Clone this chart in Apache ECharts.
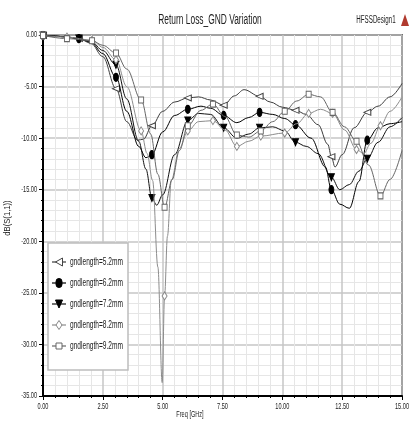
<!DOCTYPE html>
<html>
<head>
<meta charset="utf-8">
<script src="https://cdn.jsdelivr.net/npm/echarts@6/dist/echarts.min.js"></script>
<style>
  html, body { margin: 0; padding: 0; background: #fff; }
  #chart { width: 409px; height: 422px; }
</style>
</head>
<body>
<div id="chart"></div>
<script>
// Return loss dB(S(1,1)) versus frequency for five ground-plane lengths.
const FONT = "'Liberation Sans', Arial, sans-serif";

const seriesNames = ['gndlength=5.2mm', 'gndlength=6.2mm', 'gndlength=7.2mm', 'gndlength=8.2mm', 'gndlength=9.2mm'];
const xTicks = [0, 2.5, 5, 7.5, 10, 12.5, 15];
const yTicks = [-35, -30, -25, -20, -15, -10, -5, 0];

// gndlength = 5.2 mm
const freq52 = [0, 0.5, 1.0, 1.5, 2.0, 2.5, 3.05, 3.5, 3.95, 4.2, 4.55, 5.0, 5.5, 6.05, 6.5, 7.0, 7.55, 8.0, 8.4, 9.05, 9.5, 10.0, 10.55, 11.0, 11.5, 11.9, 12.05, 12.2, 12.5, 13.0, 13.55, 14.0, 14.5, 15.0];
const s11_52 = [-0.05, -0.1, -0.2, -0.35, -0.8, -2.1, -5.2, -8.4, -10.2, -10.1, -8.8, -7.4, -6.5, -6.1, -6.0, -6.3, -6.8, -5.9, -5.3, -5.95, -6.5, -7.0, -7.3, -7.7, -8.7, -10.6, -11.8, -12.8, -11.6, -9.0, -7.5, -6.9, -6.0, -4.7];

// gndlength = 6.2 mm
const freq62 = [0, 0.5, 1.0, 1.5, 2.0, 2.5, 3.05, 3.5, 4.0, 4.3, 4.55, 5.0, 5.5, 6.05, 6.6, 7.0, 7.55, 8.1, 8.6, 9.05, 9.6, 10.1, 10.55, 11.2, 11.8, 12.05, 12.4, 12.8, 13.2, 13.55, 14.0, 14.5, 15.0];
const s11_62 = [-0.05, -0.1, -0.2, -0.35, -0.7, -1.8, -4.1, -7.4, -10.8, -11.9, -11.6, -9.4, -7.8, -7.2, -6.9, -7.1, -7.8, -8.5, -8.0, -7.5, -7.7, -8.1, -8.7, -10.0, -12.8, -15.0, -16.4, -16.8, -14.2, -10.2, -9.0, -8.6, -8.4];

// gndlength = 7.2 mm
const freq72 = [0, 0.5, 1.0, 1.5, 2.0, 2.5, 3.05, 3.5, 4.0, 4.3, 4.55, 4.75, 5.0, 5.5, 6.05, 6.5, 7.0, 7.55, 8.1, 8.6, 9.05, 9.6, 10.1, 10.55, 11.0, 11.5, 12.05, 12.4, 12.8, 13.2, 13.55, 14.0, 14.5, 15.0];
const s11_72 = [-0.05, -0.1, -0.2, -0.35, -0.6, -1.5, -2.9, -6.2, -10.3, -13.0, -15.8, -16.5, -15.5, -11.6, -8.3, -7.6, -7.7, -9.0, -10.0, -9.6, -9.0, -8.9, -9.3, -10.4, -10.8, -11.5, -13.8, -15.0, -14.5, -13.2, -12.0, -10.4, -8.9, -8.0];

// gndlength = 8.2 mm
const freq82 = [0, 1.0, 2.05, 2.5, 3.05, 3.5, 4.1, 4.35, 4.58, 4.8, 4.98, 5.08, 5.2, 5.36, 5.7, 6.05, 6.5, 7.1, 7.6, 8.1, 8.6, 9.1, 10.1, 10.6, 11.1, 11.6, 12.1, 12.6, 13.1, 13.4, 13.7, 14.1, 14.5, 15.0];
const s11_82 = [-0.05, -0.2, -0.5, -1.2, -2.4, -5.0, -9.3, -11.5, -14.1, -22.5, -33.7, -25.3, -19.5, -14.1, -11.0, -9.3, -8.4, -8.3, -9.2, -10.8, -10.3, -9.8, -9.5, -8.6, -7.6, -7.2, -7.6, -9.2, -11.1, -11.5, -10.5, -8.8, -7.4, -6.0];

// gndlength = 9.2 mm
const freq92 = [0, 1.0, 2.05, 2.5, 3.05, 3.5, 4.1, 4.5, 4.8, 5.08, 5.4, 5.7, 6.05, 6.6, 7.1, 7.6, 8.1, 8.6, 9.1, 9.6, 10.1, 10.6, 11.1, 11.6, 12.1, 12.6, 13.1, 13.6, 14.1, 14.5, 15.0];
const s11_92 = [-0.05, -0.35, -0.55, -1.0, -1.75, -3.3, -6.3, -9.6, -13.5, -16.7, -14.0, -11.2, -8.8, -7.3, -6.7, -7.9, -9.7, -9.9, -9.3, -8.4, -7.4, -6.4, -5.75, -6.0, -7.5, -8.9, -10.3, -12.6, -15.6, -14.0, -11.2];

// Frequencies at which trace markers are drawn
const markersWide = [0, 1.5, 3.05, 4.55, 6.05, 7.55, 9.05, 10.55, 12.05, 13.55];
const markersNarrow = [0, 1.0, 2.05, 3.05, 4.1, 5.08, 6.05, 7.1, 8.1, 9.1, 10.1, 11.1, 12.1, 13.1, 14.1];

function buildData(freqs, vals, marks) {
  return freqs.map((f, i) => {
    const item = { value: [f, vals[i]] };
    if (!marks.some(m => Math.abs(m - f) < 1e-6)) item.symbol = 'none';
    return item;
  });
}

const traceStyles = [
  { line: '#3c3c3c', symbol: 'triangle', rotate: 90, size: [6, 7], fill: '#fff', border: '#444' },
  { line: '#000', symbol: 'circle', rotate: 0, size: [5, 8], fill: '#000', border: '#000' },
  { line: '#111', symbol: 'triangle', rotate: 180, size: [6, 7], fill: '#000', border: '#000' },
  { line: '#8c8c8c', symbol: 'diamond', rotate: 0, size: [5, 8], fill: '#fff', border: '#888' },
  { line: '#666', symbol: 'rect', rotate: 0, size: [5, 6], fill: '#fff', border: '#666' }
];

const traces = [
  buildData(freq52, s11_52, markersWide),
  buildData(freq62, s11_62, markersWide),
  buildData(freq72, s11_72, markersWide),
  buildData(freq82, s11_82, markersNarrow),
  buildData(freq92, s11_92, markersNarrow)
];

const series = traces.map((data, k) => {
  const st = traceStyles[k];
  return {
    name: seriesNames[k],
    type: 'line',
    data: data,
    smooth: 0.35,
    smoothMonotone: 'x',
    showAllSymbol: true,
    symbol: st.symbol,
    symbolRotate: st.rotate,
    symbolSize: st.size,
    lineStyle: { color: st.line, width: 1 },
    itemStyle: { color: st.fill, borderColor: st.border, borderWidth: 1 },
    emphasis: { disabled: true },
    z: 3 + k
  };
});

const axisCommon = {
  type: 'value',
  axisLine: { onZero: false, lineStyle: { color: '#000', width: 2 } },
  axisTick: { show: true, length: 4, lineStyle: { color: '#000' } },
  minorTick: { show: true, splitNumber: 5, length: 2, lineStyle: { color: '#000' } },
  axisLabel: { show: false },
  splitLine: { show: true, lineStyle: { color: '#c6c6c6', width: 1.5 } },
  minorSplitLine: { show: true, lineStyle: { color: '#e6e6e6', width: 1 } }
};

const chart = echarts.init(document.getElementById('chart'), null, { renderer: 'canvas' });
chart.setOption({
  animation: false,
  backgroundColor: '#fff',
  grid: { left: 43, right: 7, top: 35, bottom: 26, show: true, borderColor: '#000', borderWidth: 1.5, backgroundColor: '#fff' },
  xAxis: Object.assign({}, axisCommon, { min: xTicks[0], max: xTicks[xTicks.length - 1], interval: 2.5 }),
  yAxis: Object.assign({}, axisCommon, { min: yTicks[0], max: yTicks[yTicks.length - 1], interval: 5 }),
  series: series
});

// Condensed text: tick labels, titles and legend drawn as scaled text elements.
const narrow = (x, y, text, size, sx, align, extra) => Object.assign({
  type: 'text', x: x, y: y, scaleX: sx, z: 20,
  style: { text: text, font: size + 'px ' + FONT, fill: '#222', align: align, verticalAlign: 'middle' }
}, extra || {});

const graphics = [];

xTicks.forEach(v => {
  const p = chart.convertToPixel({ gridIndex: 0 }, [v, yTicks[0]]);
  graphics.push(narrow(p[0], p[1] + 11, v.toFixed(2), 9, 0.62, 'center'));
});
yTicks.forEach(v => {
  const p = chart.convertToPixel({ gridIndex: 0 }, [xTicks[0], v]);
  graphics.push(narrow(p[0] - 6, p[1], v.toFixed(2), 9, 0.62, 'right'));
});

graphics.push(narrow(210, 20, 'Return Loss_GND Variation', 14, 0.6, 'center'));
graphics.push(narrow(376, 20, 'HFSSDesign1', 10, 0.62, 'center'));
graphics.push({ type: 'polygon', z: 20, shape: { points: [[401, 26], [405, 14], [409, 26]] }, style: { fill: '#b03a2e' } });
graphics.push(narrow(190, 415, 'Freq [GHz]', 9, 0.62, 'center'));
graphics.push(narrow(8, 218, 'dB(S(1,1))', 9, 0.85, 'center', { rotation: Math.PI / 2 }));

// Legend box with line-and-marker keys
const lgX = 48, lgY = 243, lgW = 80, lgH = 127;
graphics.push({ type: 'rect', z: 15, shape: { x: lgX, y: lgY, width: lgW, height: lgH },
  style: { fill: '#fff', stroke: '#bdbdbd', lineWidth: 1.5 } });

const legendSymbol = (k, cx, cy) => {
  const st = traceStyles[k];
  const s = { fill: st.fill, stroke: st.border, lineWidth: 1 };
  if (k === 0) return { type: 'polygon', z: 17, shape: { points: [[cx - 3.5, cy], [cx + 3.5, cy - 4], [cx + 3.5, cy + 4]] }, style: s };
  if (k === 1) return { type: 'rect', z: 17, shape: { x: cx - 3, y: cy - 4.5, width: 6, height: 9, r: 3 }, style: s };
  if (k === 2) return { type: 'polygon', z: 17, shape: { points: [[cx - 3.5, cy - 4], [cx + 3.5, cy - 4], [cx, cy + 4]] }, style: s };
  if (k === 3) return { type: 'polygon', z: 17, shape: { points: [[cx, cy - 4.5], [cx + 3, cy], [cx, cy + 4.5], [cx - 3, cy]] }, style: s };
  return { type: 'rect', z: 17, shape: { x: cx - 3, y: cy - 3, width: 6, height: 6 }, style: s };
};

seriesNames.forEach((name, k) => {
  const cy = 262 + 21 * k;
  graphics.push({ type: 'line', z: 16, shape: { x1: 52, y1: cy, x2: 66, y2: cy },
    style: { stroke: traceStyles[k].line, lineWidth: 1.2 } });
  graphics.push(legendSymbol(k, 59, cy));
  graphics.push(narrow(70, cy, name, 10, 0.66, 'left'));
});

chart.setOption({ graphic: graphics });
</script>
</body>
</html>
